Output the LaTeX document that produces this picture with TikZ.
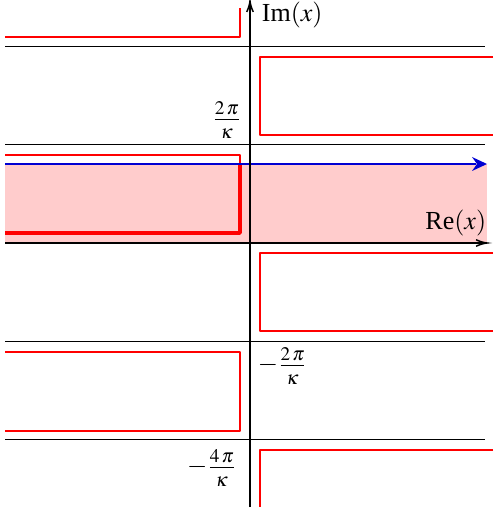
\documentclass[tikz,border=0pt]{standalone}
\usepackage{amsmath}
\usepackage{mathptmx}
\usepackage[no-math]{fontspec}
\setmainfont{Liberation Serif}
\usepackage{tikz}

\newcommand{\tickfrac}[1]{\frac{#1\,\pi\rule[-1.6pt]{0pt}{0pt}}{\rule{0pt}{9pt}\kappa}}

\begin{document}
\begin{tikzpicture}[x=0.5pt,y=0.5pt,yscale=-1,
    gridline/.style={color={rgb, 255:red, 0; green, 0; blue, 0 }, line width=0.5},
    contour/.style={color={rgb, 255:red, 255; green, 0; blue, 0 }, line width=0.8, line join=round},
    thickcontour/.style={color={rgb, 255:red, 255; green, 0; blue, 0 }, line width=1.7, line join=round},
    lbl/.style={inner sep=0.75pt, font=\fontsize{13}{15}\selectfont}]
    %uncomment if require: \path (0,512); %set diagram left start at 0, and has height of 512
    \useasboundingbox (0,0) rectangle (493,512);

    %Shape: Rectangle [id:strip] 
    \fill [color={rgb, 255:red, 255; green, 204; blue, 204 }] (5,164) -- (487,164) -- (487,243) -- (5,243) -- cycle ;

    %Straight Lines [id:grid1] 
    \draw [gridline]  (5,47) -- (485,47) ;
    %Straight Lines [id:grid2] 
    \draw [gridline]  (5,145) -- (485,145) ;
    %Straight Lines [id:grid3] 
    \draw [gridline]  (5,341) -- (485,341) ;
    %Straight Lines [id:grid4] 
    \draw [gridline]  (5,439) -- (485,439) ;

    %Shape: Polyline [id:left0] 
    \draw [contour]  (5,37) -- (240,37) -- (240,8) ;
    %Shape: Polyline [id:right1] 
    \draw [contour]  (493,57) -- (260,57) -- (260,135) -- (493,135) ;
    %Shape: Polyline [id:left1] 
    \draw [contour]  (5,155) -- (240,155) -- (240,233) -- (5,233) ;
    %Shape: Polyline [id:left1thick] 
    \draw [thickcontour]  (240,164) -- (240,233) -- (5,233) ;
    %Shape: Polyline [id:right2] 
    \draw [contour]  (493,253) -- (260,253) -- (260,331) -- (493,331) ;
    %Shape: Polyline [id:left2] 
    \draw [contour]  (5,352) -- (240,352) -- (240,431) -- (5,431) ;
    %Shape: Polyline [id:right3] 
    \draw [contour]  (493,450) -- (260,450) -- (260,507) ;

    %Straight Lines [id:path] 
    \draw [color={rgb, 255:red, 0; green, 0; blue, 210 }  ][line width=1.4]    (5,164) -- (476,164) ;
    \draw [shift={(487,164)}, rotate = 180] [fill={rgb, 255:red, 0; green, 0; blue, 210 }  ][line width=0.08]  [draw opacity=0] (15,-7) -- (0,0) -- (15,7) -- (10,0) -- cycle    ;

    %Straight Lines [id:realaxis] 
    \draw [line width=0.8]    (5,243) -- (485,243) ;
    \draw [shift={(487,243)}, rotate = 180] [color={rgb, 255:red, 0; green, 0; blue, 0 }  ][line width=0.75]    (10.93,-3.29) .. controls (6.95,-1.4) and (3.31,-0.3) .. (0,0) .. controls (3.31,0.3) and (6.95,1.4) .. (10.93,3.29)   ;
    %Straight Lines [id:imagaxis] 
    \draw [line width=0.8]    (250,507) -- (250,3) ;
    \draw [shift={(250,1)}, rotate = 90] [color={rgb, 255:red, 0; green, 0; blue, 0 }  ][line width=0.75]    (10.93,-3.29) .. controls (6.95,-1.4) and (3.31,-0.3) .. (0,0) .. controls (3.31,0.3) and (6.95,1.4) .. (10.93,3.29)   ;

    % Text Node
    \draw (260,15) node [anchor=west][lbl] (imlabel) {Im$(x)$};
    % Text Node
    \draw (488,223) node [anchor=east][lbl] (relabel) {Re$(x)$};
    % Text Node
    \draw (243,120) node [anchor=east][lbl] (tick2) {$\tickfrac{2}$};
    % Text Node
    \draw (256,366) node [anchor=west][lbl] (tickm2) {$-\tickfrac{2}$};
    % Text Node
    \draw (238,468) node [anchor=east][lbl] (tickm4) {$-\tickfrac{4}$};

\end{tikzpicture}
\end{document}
